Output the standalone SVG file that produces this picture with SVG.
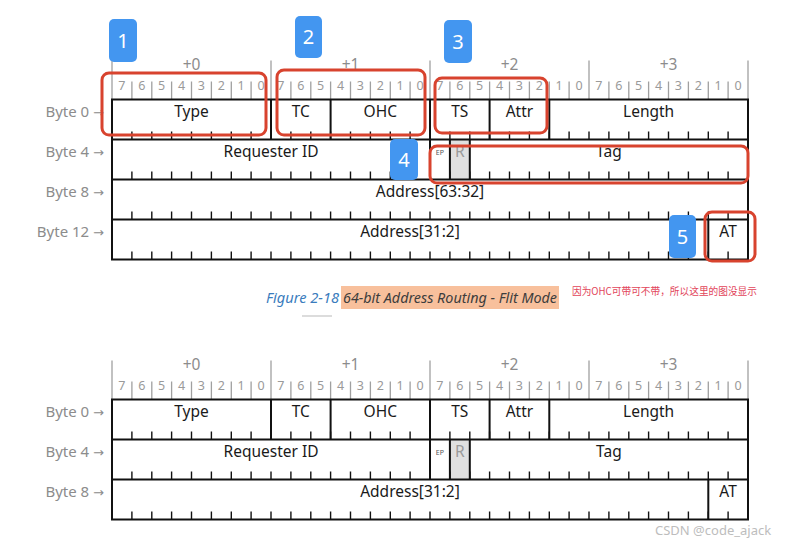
<svg xmlns="http://www.w3.org/2000/svg" xmlns:xlink="http://www.w3.org/1999/xlink" width="789" height="543" viewBox="0 0 789 543">
<style>
  text { font-family: "Noto Sans", "Open Sans", "Liberation Sans", sans-serif; }
  .fld { font-size: 15.5px; fill: #1a1a1a; text-anchor: middle; }
  .byte { font-size: 15px; fill: #8c8c8c; text-anchor: end; }
  .arr { font-family: "DejaVu Sans", sans-serif; font-size: 13px; }
  .plus { font-size: 15.5px; fill: #8c8c8c; text-anchor: middle; }
  .dig { font-size: 12.5px; fill: #9a9a9a; text-anchor: middle; }
  .ep { font-size: 7px; fill: #555; text-anchor: middle; }
  .rsv { font-size: 15.5px; fill: #9a9a9a; text-anchor: middle; }
  .frame { fill: none; stroke: #111; stroke-width: 2; }
  .div { stroke: #111; stroke-width: 2; }
  .tick { fill: none; stroke: #111; stroke-width: 1.4; }
  .htick { fill: none; stroke: #a0a0a0; stroke-width: 1.3; }
  .hl { fill: none; stroke: #d8432e; stroke-width: 3; }
  .badge { fill: #4396f0; }
  .num { font-size: 20px; fill: #fff; text-anchor: middle; }
  .cap1 { font-size: 15px; font-style: italic; fill: #3a7cbd; }
  .cap2 { font-size: 15px; font-style: italic; fill: #3d3d3d; }
  .note { font-family: "Noto Sans CJK SC", sans-serif; font-size: 10px; fill: #e2455a; }
  .wm { font-size: 13px; fill: #bdbdbd; }
</style>
<defs>
  <path id="rowticks" class="tick" d="M131.9 0v-8M151.8 0v-8M171.6 0v-8M191.5 0v-8M211.4 0v-8M231.3 0v-8M251.1 0v-8M271 0v-8M290.9 0v-8M310.8 0v-8M330.6 0v-8M350.5 0v-8M370.4 0v-8M390.3 0v-8M410.1 0v-8M430 0v-8M449.9 0v-8M469.8 0v-8M489.6 0v-8M509.5 0v-8M529.4 0v-8M549.3 0v-8M569.1 0v-8M589 0v-8M608.9 0v-8M628.8 0v-8M648.6 0v-8M668.5 0v-8M688.4 0v-8M708.3 0v-8M728.1 0v-8"/>
  <g id="header">
    <path class="htick" d="M131.9 0v-18M151.8 0v-18M171.6 0v-18M191.5 0v-18M211.4 0v-18M231.3 0v-18M251.1 0v-18M290.9 0v-18M310.8 0v-18M330.6 0v-18M350.5 0v-18M370.4 0v-18M390.3 0v-18M410.1 0v-18M449.9 0v-18M469.8 0v-18M489.6 0v-18M509.5 0v-18M529.4 0v-18M549.3 0v-18M569.1 0v-18M608.9 0v-18M628.8 0v-18M648.6 0v-18M668.5 0v-18M688.4 0v-18M708.3 0v-18M728.1 0v-18"/>
    <path class="htick" d="M112 0v-39M271 0v-39M430 0v-39M589 0v-39M748 0v-39"/>
    <text class="plus" x="191.5" y="-30">+0</text>
    <text class="plus" x="350.5" y="-30">+1</text>
    <text class="plus" x="509.5" y="-30">+2</text>
    <text class="plus" x="668.5" y="-30">+3</text>
    <text class="dig" y="-10" x="121.9 141.8 161.7 181.6 201.4 221.3 241.2 261.1 280.9 300.8 320.7 340.6 360.4 380.3 400.2 420.1 439.9 459.8 479.7 499.6 519.4 539.3 559.2 579.1 598.9 618.8 638.7 658.6 678.4 698.3 718.2 738.1">76543210765432107654321076543210</text>
  </g>
</defs>

<!-- Top table: 64-bit address routing -->
<g id="table-top">
  <use href="#header" y="99.5"/>
  <g id="t1-byte-labels">
    <text class="byte" x="104" y="117">Byte 0 <tspan class="arr">→</tspan></text>
    <text class="byte" x="104" y="157">Byte 4 <tspan class="arr">→</tspan></text>
    <text class="byte" x="104" y="197">Byte 8 <tspan class="arr">→</tspan></text>
    <text class="byte" x="104" y="237">Byte 12 <tspan class="arr">→</tspan></text>
  </g>
  <rect x="449.9" y="139.5" width="19.9" height="40" fill="#e0e0e0"/>
  <use href="#rowticks" y="139.5"/>
  <use href="#rowticks" y="179.5"/>
  <use href="#rowticks" y="219.5"/>
  <use href="#rowticks" y="259.5"/>
  <rect class="frame" x="112" y="99.5" width="636" height="160"/>
  <path class="div" d="M112 139.5H748M112 179.5H748M112 219.5H748"/>
  <path class="div" d="M271 99.5V139.5M330.6 99.5V139.5M430 99.5V139.5M489.6 99.5V139.5M549.3 99.5V139.5M430 139.5V179.5M449.9 139.5V179.5M469.8 139.5V179.5M708.3 219.5V259.5"/>
  <g id="t1-type"><text class="fld" x="191.5" y="117">Type</text></g>
  <g id="t1-tc"><text class="fld" x="300.8" y="117">TC</text></g>
  <g id="t1-ohc"><text class="fld" x="380.3" y="117">OHC</text></g>
  <g id="t1-ts"><text class="fld" x="459.8" y="117">TS</text></g>
  <g id="t1-attr"><text class="fld" x="519.4" y="117">Attr</text></g>
  <g id="t1-length"><text class="fld" x="648.6" y="117">Length</text></g>
  <g id="t1-reqid"><text class="fld" x="271" y="157">Requester ID</text></g>
  <g id="t1-ep"><text class="ep" x="439.9" y="155">EP</text></g>
  <g id="t1-r"><text class="rsv" x="459.8" y="157">R</text></g>
  <g id="t1-tag"><text class="fld" x="608.9" y="157">Tag</text></g>
  <g id="t1-addr-hi"><text class="fld" x="430" y="197">Address[63:32]</text></g>
  <g id="t1-addr-lo"><text class="fld" x="410" y="237">Address[31:2]</text></g>
  <g id="t1-at"><text class="fld" x="728.1" y="237">AT</text></g>
</g>

<!-- Annotation highlights -->
<g id="highlights">
  <rect class="hl" x="102" y="73" width="164" height="62" rx="7"/>
  <rect class="hl" x="277" y="70" width="148" height="65" rx="7"/>
  <rect class="hl" x="435" y="78" width="112" height="55" rx="7"/>
  <rect class="hl" x="430" y="146" width="318" height="37" rx="7"/>
  <rect class="hl" x="705" y="212" width="50" height="49" rx="7"/>
</g>
<g id="badges">
  <g id="badge-1"><rect class="badge" x="109" y="19" width="28" height="43" rx="5"/><text class="num" x="123" y="48">1</text></g>
  <g id="badge-2"><rect class="badge" x="295" y="16" width="27" height="42" rx="5"/><text class="num" x="308.5" y="44">2</text></g>
  <g id="badge-3"><rect class="badge" x="444" y="20" width="28" height="43" rx="5"/><text class="num" x="458" y="49">3</text></g>
  <g id="badge-4"><rect class="badge" x="390" y="139" width="28" height="41" rx="5"/><text class="num" x="404" y="167">4</text></g>
  <g id="badge-5"><rect class="badge" x="669" y="215" width="27" height="43" rx="5"/><text class="num" x="682.5" y="244">5</text></g>
</g>

<!-- Caption -->
<g id="caption">
  <rect x="341" y="286" width="218" height="23" fill="#f8c09c"/>
  <text class="cap1" x="266" y="303" textLength="73" lengthAdjust="spacingAndGlyphs">Figure 2-18</text>
  <text class="cap2" x="343" y="303" textLength="214" lengthAdjust="spacingAndGlyphs">64-bit Address Routing - Flit Mode</text>
  <line x1="302" y1="316" x2="332" y2="316" stroke="#d0d0d0" stroke-width="1.5"/>
  <text class="note" x="572" y="295" textLength="185" lengthAdjust="spacingAndGlyphs">因为OHC可带可不带，所以这里的图没显示</text>
</g>

<!-- Bottom table: without OHC -->
<g id="table-bottom">
  <use href="#header" y="399.5"/>
  <g id="t2-byte-labels">
    <text class="byte" x="104" y="417">Byte 0 <tspan class="arr">→</tspan></text>
    <text class="byte" x="104" y="457">Byte 4 <tspan class="arr">→</tspan></text>
    <text class="byte" x="104" y="497">Byte 8 <tspan class="arr">→</tspan></text>
  </g>
  <rect x="449.9" y="439.5" width="19.9" height="40" fill="#e0e0e0"/>
  <use href="#rowticks" y="439.5"/>
  <use href="#rowticks" y="479.5"/>
  <use href="#rowticks" y="519.5"/>
  <rect class="frame" x="112" y="399.5" width="636" height="120"/>
  <path class="div" d="M112 439.5H748M112 479.5H748"/>
  <path class="div" d="M271 399.5V439.5M330.6 399.5V439.5M430 399.5V439.5M489.6 399.5V439.5M549.3 399.5V439.5M430 439.5V479.5M449.9 439.5V479.5M469.8 439.5V479.5M708.3 479.5V519.5"/>
  <g id="t2-type"><text class="fld" x="191.5" y="417">Type</text></g>
  <g id="t2-tc"><text class="fld" x="300.8" y="417">TC</text></g>
  <g id="t2-ohc"><text class="fld" x="380.3" y="417">OHC</text></g>
  <g id="t2-ts"><text class="fld" x="459.8" y="417">TS</text></g>
  <g id="t2-attr"><text class="fld" x="519.4" y="417">Attr</text></g>
  <g id="t2-length"><text class="fld" x="648.6" y="417">Length</text></g>
  <g id="t2-reqid"><text class="fld" x="271" y="457">Requester ID</text></g>
  <g id="t2-ep"><text class="ep" x="439.9" y="455">EP</text></g>
  <g id="t2-r"><text class="rsv" x="459.8" y="457">R</text></g>
  <g id="t2-tag"><text class="fld" x="608.9" y="457">Tag</text></g>
  <g id="t2-addr"><text class="fld" x="410" y="497">Address[31:2]</text></g>
  <g id="t2-at"><text class="fld" x="728.1" y="497">AT</text></g>
</g>

<g id="connectors"/>

<text class="wm" x="655" y="535">CSDN @code_ajack</text>
</svg>
